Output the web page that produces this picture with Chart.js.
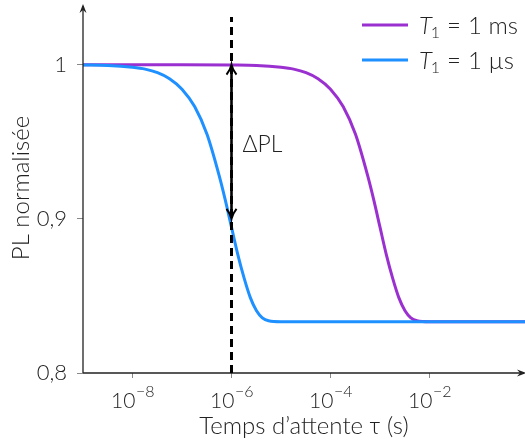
<!DOCTYPE html>
<html>
<head>
<meta charset="utf-8">
<script src="https://cdn.jsdelivr.net/npm/chart.js@4"></script>
<style>
  body { margin: 0; background: #fff; }
  #wrap { width: 525px; height: 445px; }
</style>
</head>
<body>
<div id="wrap"><canvas id="plChart"></canvas></div>
<script>
// waiting times (s) and normalised PL
const tauMs = [1e-9, 1e-7, 1e-6, 3.2e-6, 1e-5, 1.8e-5, 3.2e-5, 5.6e-5, 1e-4, 1.8e-4, 3.2e-4, 5.6e-4, 7.5e-4,
    1e-3, 1.33e-3, 1.8e-3, 2.4e-3, 3.2e-3, 4.2e-3, 5.6e-3, 1e-2, 1e-1, 0.85];
const plMs = [1.000, 1.000, 0.9998, 0.9995, 0.9983, 0.9971, 0.9948, 0.9909, 0.9841, 0.9728, 0.9548, 0.9283, 0.9121,
    0.8946, 0.8773, 0.8615, 0.8489, 0.8404, 0.8358, 0.8339, 0.8333, 0.8333, 0.8333];

const tauUs = [1e-9, 3.2e-9, 1e-8, 1.8e-8, 3.2e-8, 5.6e-8, 1e-7, 1.8e-7, 3.2e-7, 5.6e-7, 7.5e-7,
    1e-6, 1.33e-6, 1.8e-6, 2.4e-6, 3.2e-6, 4.2e-6, 5.6e-6, 1e-5, 1e-4, 1e-3, 1e-2, 1e-1, 0.85];
const plUs = [0.9998, 0.9995, 0.9983, 0.9971, 0.9948, 0.9909, 0.9841, 0.9728, 0.9548, 0.9283, 0.9121,
    0.8946, 0.8773, 0.8615, 0.8489, 0.8404, 0.8358, 0.8339, 0.8333, 0.8333, 0.8333, 0.8333, 0.8333, 0.8333];

const xTicks = [1e-8, 1e-6, 1e-4, 1e-2];
const xTickExps = ['−8', '−6', '−4', '−2'];
const yTicks = [0.8, 0.9, 1];
const yTickLabels = ['0,8', '0,9', '1'];

const markTau = 1e-6;
const dashRange = [0.8, 1.031];
const arrowRange = [1.0, 0.9];

const seriesNames = ['1 ms', '1 µs'];
const seriesColors = ['#9b30d0', '#1e90ff'];

const FONT = 'Lato, "Open Sans", sans-serif';
const INK = '#222';

const pts = (xs, ys) => xs.map((x, i) => ({ x: x, y: ys[i] }));

const extrasPlugin = {
    id: 'extras',
    afterDatasetsDraw(chart) {
        const ctx = chart.ctx;
        const xs = chart.scales.x, ys = chart.scales.y;
        const area = chart.chartArea;
        ctx.save();
        // axis lines with arrow heads
        ctx.strokeStyle = INK;
        ctx.fillStyle = INK;
        ctx.lineWidth = 1.3;
        ctx.beginPath();
        ctx.moveTo(area.left, area.bottom);
        ctx.lineTo(area.left, 6);
        ctx.moveTo(area.left, area.bottom);
        ctx.lineTo(524, area.bottom);
        ctx.stroke();
        ctx.beginPath();
        ctx.moveTo(area.left, 4);
        ctx.lineTo(area.left - 3.5, 13);
        ctx.lineTo(area.left, 10);
        ctx.lineTo(area.left + 3.5, 13);
        ctx.closePath();
        ctx.fill();
        ctx.beginPath();
        ctx.moveTo(526, area.bottom);
        ctx.lineTo(517, area.bottom - 3.5);
        ctx.lineTo(520, area.bottom);
        ctx.lineTo(517, area.bottom + 3.5);
        ctx.closePath();
        ctx.fill();

        // x tick labels as 10 with raised exponent
        ctx.textBaseline = 'alphabetic';
        xTicks.forEach((v, i) => {
            const px = xs.getPixelForValue(v);
            ctx.font = '300 21px ' + FONT;
            const wb = ctx.measureText('10').width;
            ctx.font = '300 16px ' + FONT;
            const we = ctx.measureText(xTickExps[i]).width;
            const x0 = px - (wb + we) / 2;
            ctx.font = '300 21px ' + FONT;
            ctx.textAlign = 'left';
            ctx.fillText('10', x0, 408);
            ctx.font = '300 16px ' + FONT;
            ctx.fillText(xTickExps[i], x0 + wb + 0.5, 397);
        });

        // dashed marker
        const mx = xs.getPixelForValue(markTau);
        ctx.strokeStyle = '#000';
        ctx.lineWidth = 3;
        ctx.setLineDash([8, 5]);
        ctx.beginPath();
        ctx.moveTo(mx, ys.getPixelForValue(dashRange[0]));
        ctx.lineTo(mx, ys.getPixelForValue(dashRange[1]));
        ctx.stroke();
        ctx.setLineDash([]);

        // double arrow
        const y1 = ys.getPixelForValue(arrowRange[0]);
        const y2 = ys.getPixelForValue(arrowRange[1]);
        ctx.lineWidth = 2.6;
        ctx.beginPath();
        ctx.moveTo(mx, y1 + 1);
        ctx.lineTo(mx, y2 - 1);
        ctx.stroke();
        ctx.lineWidth = 2;
        ctx.beginPath();
        ctx.moveTo(mx - 5, y1 + 10);
        ctx.quadraticCurveTo(mx - 1, y1 + 5, mx, y1);
        ctx.quadraticCurveTo(mx + 1, y1 + 5, mx + 5, y1 + 10);
        ctx.moveTo(mx - 5, y2 - 10);
        ctx.quadraticCurveTo(mx - 1, y2 - 5, mx, y2);
        ctx.quadraticCurveTo(mx + 1, y2 - 5, mx + 5, y2 - 10);
        ctx.stroke();

        ctx.fillStyle = INK;
        ctx.font = '300 23px ' + FONT;
        ctx.textBaseline = 'middle';
        ctx.textAlign = 'left';
        ctx.fillText('ΔPL', mx + 11, ys.getPixelForValue(0.948));

        // legend
        seriesNames.forEach((name, i) => {
            const ly = 25 + i * 35;
            ctx.strokeStyle = seriesColors[i];
            ctx.lineWidth = 3;
            ctx.beginPath();
            ctx.moveTo(362, ly);
            ctx.lineTo(408, ly);
            ctx.stroke();
            let tx = 419;
            ctx.fillStyle = INK;
            ctx.textBaseline = 'alphabetic';
            const base = ly + 9;
            ctx.font = 'italic 300 24px ' + FONT;
            ctx.fillText('T', tx, base);
            tx += ctx.measureText('T').width - 1;
            ctx.font = '300 16px ' + FONT;
            ctx.fillText('1', tx, base + 4);
            tx += ctx.measureText('1').width + 7;
            ctx.font = '300 24px ' + FONT;
            ctx.fillText('=', tx, base);
            tx += ctx.measureText('=').width + 7;
            ctx.fillText(name, tx, base);
        });
        ctx.restore();
    }
};

new Chart(document.getElementById('plChart'), {
    type: 'line',
    data: {
        datasets: [
            {
                label: 'T1 = ' + seriesNames[0],
                data: pts(tauMs, plMs),
                borderColor: seriesColors[0],
                borderWidth: 3,
                pointRadius: 0,
                cubicInterpolationMode: 'monotone',
                order: 1
            },
            {
                label: 'T1 = ' + seriesNames[1],
                data: pts(tauUs, plUs),
                borderColor: seriesColors[1],
                borderWidth: 3,
                pointRadius: 0,
                cubicInterpolationMode: 'monotone',
                order: 0
            }
        ]
    },
    options: {
        responsive: true,
        maintainAspectRatio: false,
        animation: false,
        layout: { padding: { top: 3, right: 0, left: 0, bottom: 0 } },
        plugins: { legend: { display: false }, tooltip: { enabled: false } },
        scales: {
            x: {
                type: 'logarithmic',
                min: 1e-9,
                max: 0.85,
                afterBuildTicks: (s) => { s.ticks = xTicks.map(v => ({ value: v })); },
                afterFit: (s) => { s.height = 72; s.paddingLeft = 0; s.paddingRight = 0; },
                grid: { drawOnChartArea: false, tickLength: 5, color: '#888', lineWidth: 1 },
                border: { display: false },
                ticks: {
                    autoSkip: false,
                    maxRotation: 0,
                    padding: 5,
                    color: INK,
                    font: { family: FONT, size: 20 },
                    callback: () => ''
                },
                title: {
                    display: true,
                    text: 'Temps d’attente τ (s)',
                    color: INK,
                    font: { family: FONT, size: 24, weight: 300 },
                    padding: { top: 0, bottom: 4 }
                }
            },
            y: {
                min: 0.8,
                max: 1.040,
                afterBuildTicks: (s) => { s.ticks = yTicks.map(v => ({ value: v })); },
                afterFit: (s) => { s.width = 83; s.paddingTop = 0; s.paddingBottom = 0; },
                grid: { drawOnChartArea: false, tickLength: 6, color: '#888', lineWidth: 1 },
                border: { display: false },
                ticks: {
                    padding: 10,
                    color: INK,
                    font: { family: FONT, size: 22, weight: 300 },
                    callback: (v) => yTickLabels[yTicks.indexOf(v)] ?? ''
                },
                title: {
                    display: true,
                    text: 'PL normalisée',
                    color: INK,
                    font: { family: FONT, size: 24, weight: 300 },
                    padding: { top: 7, bottom: 0 }
                }
            }
        }
    },
    plugins: [extrasPlugin]
});
</script>
</body>
</html>
